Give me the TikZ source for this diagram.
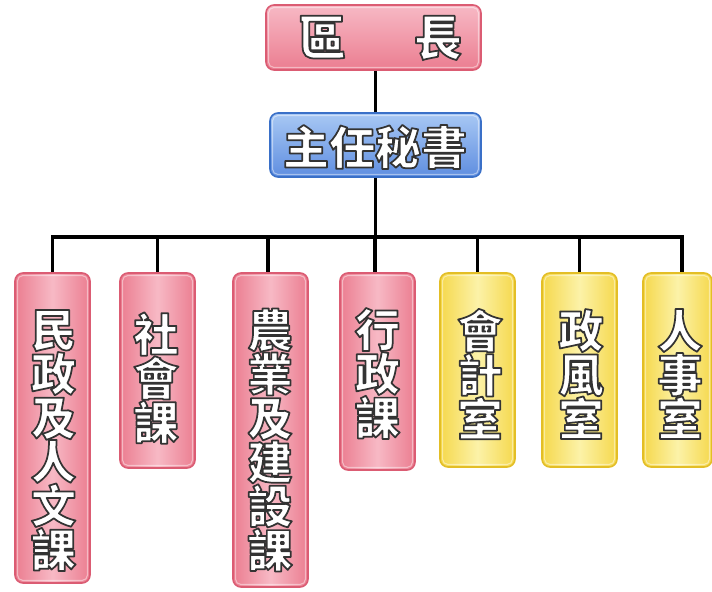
\documentclass[tikz,border=0pt]{standalone}
\usepackage{fontspec}
\newfontfamily\cjk{Noto Sans CJK TC Black}
\newlength\upx \setlength\upx{0.75pt}
\newcommand\olt[1]{\special{pdf:literal direct 1 j 0.2 0.2 0.2 RG 1.3 w 2 Tr}#1\special{pdf:literal direct 0 Tr}}
\definecolor{pinkedge}{HTML}{DB5C73}
\definecolor{pinkside}{HTML}{EB7D90}
\definecolor{pinkmid}{HTML}{F7B9C5}
\definecolor{yeledge}{HTML}{E3BE26}
\definecolor{yelside}{HTML}{F5D84C}
\definecolor{yelmid}{HTML}{FCF2A8}
\definecolor{bluedge}{HTML}{3A70C8}
\definecolor{bluetop}{HTML}{A8C8F4}
\definecolor{blubot}{HTML}{5F8EE0}
\tikzset{
  box/.style={rounded corners=6pt, line width=1.2pt, inner sep=0pt},
  pinkv/.style={box, draw=pinkedge, left color=pinkside, right color=pinkside, middle color=pinkmid, minimum width=75\upx},
  yelv/.style={box, draw=yeledge, left color=yelside, right color=yelside, middle color=yelmid, minimum width=75\upx},
  pinkh/.style={box, draw=pinkedge, top color=pinkmid, bottom color=pinkside},
  blueh/.style={box, draw=bluedge, top color=bluetop, bottom color=blubot},
  hl/.style={white, opacity=0.45, line width=0.8pt, rounded corners=4pt},
  vtext/.style={inner sep=0pt, text=white, align=center, font=\cjk\fontsize{34}{44\upx}\selectfont},
  htext/.style={inner sep=0pt, text=white, font=\cjk\fontsize{34.5}{40}\selectfont},
  conn/.style={line width=2.3pt, black}
}
\begin{document}
\begin{tikzpicture}[x=0.75pt,y=-0.75pt]
\useasboundingbox (0,0) rectangle (712,591);
% boxes
\node[pinkh, minimum width=215\upx, minimum height=65\upx] (qz) at (373.5,37.5) {};
\node[blueh, minimum width=211\upx, minimum height=64\upx] (ms) at (375.5,145) {};
\node[pinkv, minimum height=310\upx] (b1) at (52.5,428) {};
\node[pinkv, minimum height=195\upx] (b2) at (157.5,370.5) {};
\node[pinkv, minimum height=314\upx] (b3) at (270.5,430) {};
\node[pinkv, minimum height=197\upx] (b4) at (377.5,371.5) {};
\node[yelv, minimum height=194\upx] (b5) at (477.5,370) {};
\node[yelv, minimum height=194\upx] (b6) at (579.5,370) {};
\node[yelv, minimum height=194\upx, minimum width=69\upx] (b7) at (677.5,370) {};
% inner highlights
\foreach \n in {qz,ms,b1,b2,b3,b4,b5,b6,b7}
  \draw[hl] ([shift={(2.5pt,-2.5pt)}]\n.north west) rectangle ([shift={(-2.5pt,2.5pt)}]\n.south east);
% texts
\node[htext, font=\cjk\fontsize{36}{40}\selectfont] (tqz) at (380,38) {\olt{區\hspace{51pt}長}};
\node[htext] (tms) at (375,147) {\olt{主任秘書}};
\node[vtext] (t1) at (53.5,440.5) {\olt{民\\政\\及\\人\\文\\課}};
\node[vtext] (t2) at (156,378) {\olt{社\\會\\課}};
\node[vtext] (t3) at (270,440) {\olt{農\\業\\及\\建\\設\\課}};
\node[vtext] (t4) at (377.5,373.5) {\olt{行\\政\\課}};
\node[vtext] (t5) at (480,374) {\olt{會\\計\\室}};
\node[vtext] (t6) at (581,374) {\olt{政\\風\\室}};
\node[vtext] (t7) at (680,374) {\olt{人\\事\\室}};
% connectors
\coordinate (bus) at (375.5,237);
\draw[conn] (ms.north |- qz.south) -- (ms.north);
\draw[conn] (ms.south) -- (bus);
\draw[conn] (bus) -| (b1.north);
\draw[conn] (bus) -| (b2.north);
\draw[conn] (bus) -| ([xshift=-2.5\upx]b3.north);
\draw[conn] (bus) -| ([xshift=-2.5\upx]b4.north);
\draw[conn] (bus) -| (b5.north);
\draw[conn] (bus) -| (b6.north);
\draw[conn] (bus) -| ([xshift=4.5\upx]b7.north);
\end{tikzpicture}
\end{document}
